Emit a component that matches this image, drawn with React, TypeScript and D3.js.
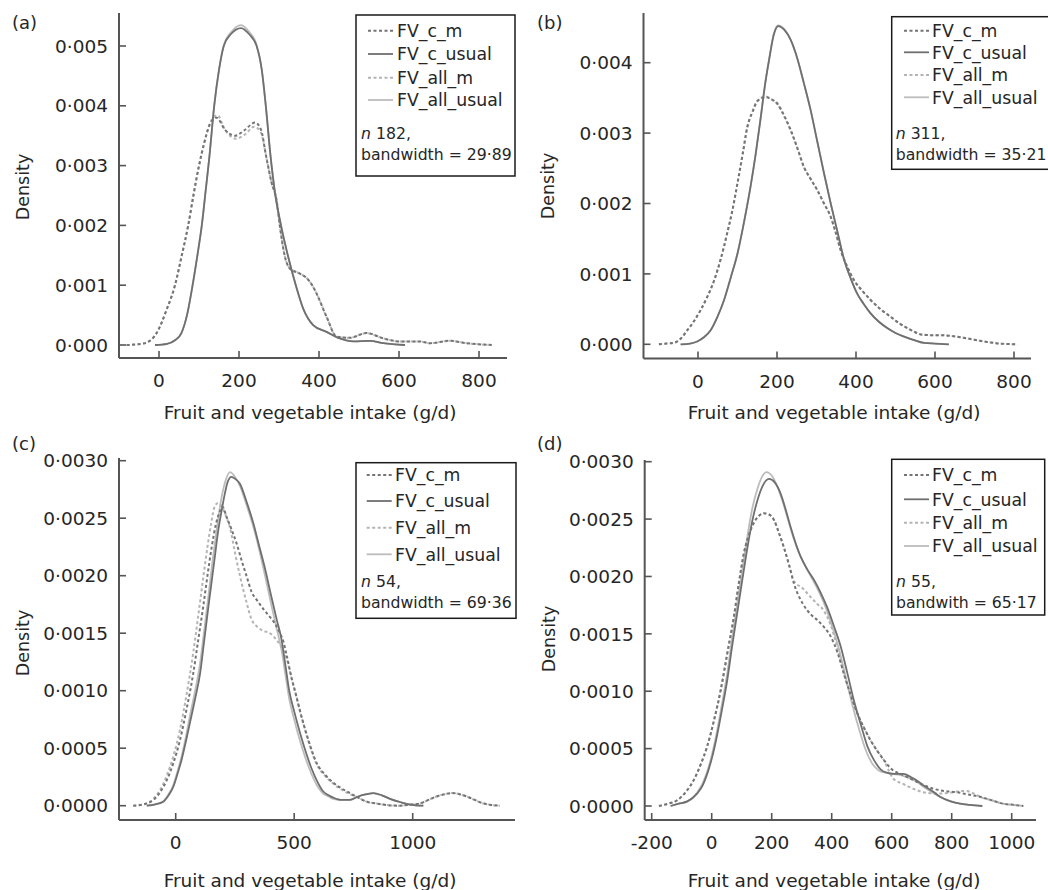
import React from "react";
import * as d3 from "d3";

type Pt = [number, number];

// ---- data: [intake g/d, density] ----
// panel (a)
const aCm: Pt[] = [[-81,0],[-55,0.00001],[-31,0.00004],[-6,0.0002],[19,0.00059],[40,0.001],[57,0.0015],[73,0.002],[86,0.0025],[100,0.003],[112,0.00335],[128,0.0037],[144,0.0038],[165,0.0036],[190,0.0035],[215,0.0036],[240,0.00372],[255,0.0036],[268,0.00315],[282,0.0027],[294,0.00242],[302,0.002],[314,0.0015],[327,0.00128],[350,0.0012],[369,0.00112],[383,0.001],[394,0.00086],[419,0.00047],[444,0.00014],[477,0.00012],[519,0.0002],[561,0.00011],[602,0.00006],[652,0.00006],[677,0.00003],[727,0.00007],[769,0.00003],[832,0]];
const aCu: Pt[] = [[-10,0],[20,0.00002],[40,0.00008],[56,0.0002],[70,0.0005],[84,0.001],[96,0.0015],[107,0.002],[117,0.0026],[126,0.00315],[138,0.004],[150,0.0046],[162,0.005],[180,0.0052],[205,0.0053],[225,0.0052],[244,0.005],[257,0.0046],[267,0.004],[279,0.00315],[291,0.0025],[305,0.002],[322,0.0015],[342,0.001],[361,0.0006],[386,0.00033],[419,0.00022],[452,0.00011],[486,0.00006],[527,0.00007],[561,0.00003],[615,0]];
const aAm: Pt[] = [[-81,0],[-55,0.00001],[-31,0.00004],[-6,0.0002],[19,0.00059],[40,0.001],[57,0.0015],[73,0.002],[86,0.0025],[100,0.003],[112,0.00335],[128,0.00372],[146,0.00384],[165,0.0036],[192,0.00345],[215,0.00352],[238,0.00365],[255,0.00355],[268,0.00315],[282,0.0027],[294,0.00242],[302,0.002],[314,0.0015],[327,0.00128],[350,0.0012],[369,0.00112],[383,0.001],[394,0.00086],[419,0.00047],[444,0.00014],[477,0.00012],[519,0.0002],[561,0.00011],[602,0.00006],[652,0.00006],[677,0.00003],[727,0.00007],[769,0.00003],[832,0]];
const aAu: Pt[] = [[-10,0],[20,0.00002],[40,0.00008],[56,0.0002],[70,0.0005],[84,0.001],[96,0.0015],[107,0.002],[117,0.0026],[126,0.00315],[138,0.004],[150,0.0046],[162,0.00502],[180,0.00523],[205,0.00535],[225,0.00524],[244,0.00502],[257,0.0046],[267,0.004],[279,0.00315],[291,0.0025],[305,0.002],[322,0.0015],[342,0.001],[361,0.0006],[386,0.00033],[419,0.00022],[452,0.00011],[486,0.00006],[527,0.00007],[561,0.00003],[615,0]];

// panel (b)
const bCm: Pt[] = [[-99,0],[-80,0.00001],[-61,0.00002],[-44,0.00008],[-27,0.0002],[-10,0.00033],[7,0.00049],[24,0.00068],[41,0.00091],[58,0.00122],[74,0.00158],[87,0.0019],[100,0.00229],[113,0.0027],[125,0.00309],[138,0.0033],[150,0.00345],[171,0.00351],[186,0.00348],[201,0.00342],[218,0.00325],[235,0.00304],[252,0.00278],[268,0.00252],[285,0.00235],[302,0.00219],[319,0.002],[336,0.00181],[348,0.0016],[361,0.00134],[378,0.0011],[395,0.00091],[416,0.00076],[437,0.00063],[462,0.0005],[488,0.00039],[509,0.0003],[530,0.00023],[547,0.00018],[564,0.00014],[590,0.00013],[614,0.00013],[640,0.00012],[665,0.0001],[695,0.00007],[724,0.00004],[765,0.00001],[808,0]];
const bCu: Pt[] = [[-44,0],[-20,0.00001],[-2,0.00004],[15,0.0001],[32,0.0002],[50,0.0004],[66,0.00063],[83,0.00095],[100,0.00129],[117,0.00175],[133,0.00224],[146,0.0027],[159,0.00323],[170,0.0037],[180,0.00404],[192,0.0044],[203,0.00452],[218,0.00447],[235,0.00432],[252,0.00405],[268,0.00371],[285,0.00333],[302,0.00288],[319,0.00243],[336,0.002],[353,0.0016],[370,0.0012],[387,0.00093],[403,0.00072],[420,0.00057],[437,0.00044],[458,0.00032],[479,0.00023],[500,0.00016],[522,0.00011],[547,0.00006],[572,0.00002],[600,0.00001],[635,0]];
const bAm: Pt[] = [[-99,0],[-80,0.00001],[-61,0.00002],[-44,0.00008],[-27,0.0002],[-10,0.00033],[7,0.00049],[24,0.00068],[41,0.00091],[58,0.00122],[74,0.00158],[87,0.0019],[100,0.00229],[113,0.0027],[125,0.00309],[138,0.00331],[150,0.00346],[171,0.00352],[186,0.00348],[201,0.00341],[218,0.00324],[235,0.00303],[252,0.00278],[268,0.00252],[285,0.00235],[302,0.00219],[319,0.002],[336,0.00181],[348,0.0016],[361,0.00134],[378,0.0011],[395,0.00091],[416,0.00076],[437,0.00063],[462,0.0005],[488,0.00039],[509,0.0003],[530,0.00023],[547,0.00018],[564,0.00014],[590,0.00013],[614,0.00013],[640,0.00012],[665,0.0001],[695,0.00007],[724,0.00004],[765,0.00001],[808,0]];
const bAu: Pt[] = [[-44,0],[-20,0.00001],[-2,0.00004],[15,0.0001],[32,0.0002],[50,0.0004],[66,0.00063],[83,0.00095],[100,0.00129],[117,0.00175],[133,0.00224],[146,0.0027],[159,0.00323],[170,0.0037],[180,0.00405],[192,0.00441],[203,0.00453],[218,0.00448],[235,0.00432],[252,0.00405],[268,0.00371],[285,0.00333],[302,0.00288],[319,0.00243],[336,0.002],[353,0.0016],[370,0.0012],[387,0.00093],[403,0.00072],[420,0.00057],[437,0.00044],[458,0.00032],[479,0.00023],[500,0.00016],[522,0.00011],[547,0.00006],[572,0.00002],[600,0.00001],[635,0]];

// panel (c)
const cCm: Pt[] = [[-179,0],[-140,0.00001],[-94,0.00005],[-65,0.00012],[-38,0.00022],[-10,0.00037],[18,0.00057],[46,0.00084],[74,0.00115],[95,0.00144],[116,0.00173],[134,0.002],[152,0.00225],[170,0.00245],[187,0.00256],[197,0.0026],[215,0.00251],[236,0.0024],[257,0.00228],[280,0.00212],[300,0.00199],[320,0.00186],[342,0.00179],[370,0.00171],[398,0.00164],[420,0.00158],[440,0.0015],[454,0.00143],[468,0.00131],[490,0.0011],[503,0.001],[525,0.00082],[560,0.00057],[595,0.00037],[630,0.00027],[665,0.0002],[700,0.00015],[735,0.00011],[770,0.00007],[806,0.000035],[846,0.00002],[876,0.00001],[946,0],[990,0.00001],[1031,0.00002],[1066,0.00005],[1101,0.00008],[1135,0.0001],[1165,0.00011],[1198,0.0001],[1228,0.00008],[1262,0.00005],[1298,0.00002],[1368,0]];
const cCu: Pt[] = [[-122,0],[-90,0.00001],[-52,0.000035],[-30,0.00009],[-10,0.000165],[8,0.00028],[25,0.0004],[42,0.00055],[60,0.00072],[82,0.00093],[103,0.00115],[120,0.00143],[138,0.00173],[163,0.00213],[180,0.0024],[195,0.00258],[208,0.00272],[220,0.00282],[235,0.00286],[252,0.00284],[271,0.0028],[298,0.00265],[327,0.00246],[352,0.00226],[377,0.00206],[400,0.00185],[426,0.00162],[447,0.00144],[463,0.00122],[479,0.001],[500,0.00082],[525,0.00063],[550,0.00046],[572,0.00033],[595,0.00022],[620,0.00013],[645,0.00009],[665,0.00007],[700,0.00005],[735,0.00005],[770,0.00008],[806,0.0001],[834,0.00011],[870,0.00009],[904,0.00006],[950,0.00003],[989,0.00001],[1045,0]];
const cAm: Pt[] = [[-179,0],[-140,0.00001],[-94,0.00006],[-65,0.00014],[-38,0.00026],[-10,0.00043],[18,0.00066],[46,0.00097],[74,0.00133],[95,0.00165],[116,0.00198],[134,0.00225],[150,0.00246],[166,0.00261],[178,0.00263],[195,0.0026],[212,0.00252],[230,0.00241],[250,0.0022],[271,0.002],[300,0.00176],[320,0.00162],[342,0.00156],[370,0.00152],[398,0.0015],[426,0.00144],[454,0.00135],[468,0.00128],[490,0.0011],[503,0.001],[525,0.00082],[560,0.00056],[595,0.00036],[630,0.00026],[665,0.00019],[700,0.00014],[735,0.0001],[770,0.00007],[806,0.000035],[846,0.00002],[876,0.00001],[946,0],[990,0.00001],[1031,0.00002],[1066,0.00005],[1101,0.00008],[1135,0.0001],[1165,0.00011],[1198,0.0001],[1228,0.00008],[1262,0.00005],[1298,0.00002],[1368,0]];
const cAu: Pt[] = [[-122,0],[-90,0.00001],[-52,0.00004],[-30,0.0001],[-10,0.00018],[8,0.0003],[25,0.00043],[42,0.00059],[60,0.00078],[82,0.001],[103,0.00124],[120,0.00152],[138,0.00182],[155,0.00212],[173,0.0024],[190,0.00264],[208,0.00281],[229,0.0029],[250,0.00286],[271,0.00278],[298,0.00262],[327,0.00243],[352,0.00223],[377,0.002],[400,0.00178],[426,0.00154],[447,0.00135],[463,0.00114],[479,0.00093],[500,0.00075],[525,0.00056],[550,0.0004],[572,0.00028],[595,0.00018],[620,0.00011],[645,0.00008],[665,0.00006],[700,0.00005],[735,0.00005],[770,0.00008],[806,0.0001],[834,0.00011],[870,0.00009],[904,0.00006],[950,0.00003],[989,0.00001],[1045,0]];

// panel (d)
const dCm: Pt[] = [[-176,0],[-145,0.00002],[-115,0.00005],[-87,0.00012],[-59,0.00023],[-37,0.00036],[-15,0.00052],[8,0.00075],[30,0.00101],[52,0.00133],[74,0.00165],[91,0.00195],[108,0.00221],[125,0.00237],[141,0.00247],[158,0.00253],[174,0.00255],[191,0.00254],[208,0.00249],[224,0.00238],[241,0.00225],[258,0.0021],[274,0.00194],[302,0.00177],[330,0.00167],[352,0.00162],[374,0.00156],[396,0.00148],[419,0.00134],[441,0.00115],[463,0.00097],[485,0.00081],[508,0.00068],[530,0.00057],[552,0.00048],[574,0.0004],[600,0.00032],[630,0.00028],[661,0.00024],[700,0.00019],[739,0.00015],[778,0.00013],[817,0.00012],[855,0.0001],[894,0.00008],[933,0.00005],[972,0.00002],[1005,0.00001],[1039,0]];
const dCu: Pt[] = [[-137,0],[-110,0.00002],[-81,0.00004],[-48,0.00011],[-30,0.00018],[-15,0.00028],[2,0.00043],[19,0.00063],[35,0.00085],[52,0.0011],[68,0.00139],[85,0.00168],[102,0.00197],[119,0.00225],[135,0.00248],[152,0.00266],[170,0.00279],[191,0.00285],[210,0.00282],[230,0.00272],[247,0.00258],[263,0.00243],[280,0.00229],[297,0.00217],[319,0.00206],[341,0.00197],[363,0.00186],[385,0.00173],[407,0.00157],[430,0.00139],[452,0.00116],[474,0.00092],[497,0.00071],[519,0.00052],[541,0.0004],[563,0.00032],[583,0.00029],[608,0.00028],[639,0.00028],[665,0.00025],[685,0.00022],[705,0.00018],[741,0.00012],[761,0.00008],[797,0.00004],[828,0.00002],[860,0.00001],[902,0]];
const dAm: Pt[] = [[-176,0],[-145,0.00002],[-115,0.00005],[-87,0.00012],[-59,0.00023],[-37,0.00036],[-15,0.00052],[8,0.00075],[30,0.00101],[52,0.00133],[74,0.00165],[91,0.00195],[108,0.00221],[125,0.00237],[141,0.00247],[158,0.00253],[174,0.00255],[191,0.00254],[208,0.00249],[224,0.00238],[241,0.00225],[258,0.0021],[274,0.00196],[302,0.0019],[330,0.00182],[352,0.00176],[374,0.0017],[396,0.00158],[419,0.00138],[441,0.00115],[463,0.00097],[485,0.00081],[508,0.00068],[530,0.00057],[552,0.00048],[574,0.0004],[590,0.00031],[605,0.00024],[640,0.00019],[672,0.00015],[705,0.00012],[739,0.00011],[772,0.00011],[805,0.00012],[830,0.00013],[850,0.00013],[872,0.00011],[894,0.00008],[933,0.00005],[972,0.00002],[1005,0.00001],[1039,0]];
const dAu: Pt[] = [[-137,0],[-110,0.00002],[-81,0.00004],[-48,0.00012],[-30,0.0002],[-15,0.0003],[2,0.00046],[19,0.00067],[35,0.0009],[52,0.00116],[68,0.00146],[85,0.00176],[102,0.00206],[119,0.00235],[135,0.00259],[152,0.00276],[168,0.00287],[183,0.00291],[200,0.00288],[218,0.00279],[237,0.00265],[255,0.00249],[272,0.00234],[290,0.00221],[312,0.00209],[335,0.00198],[357,0.00187],[380,0.00173],[402,0.00156],[425,0.00136],[447,0.00112],[469,0.00088],[491,0.00067],[513,0.00049],[535,0.00037],[557,0.00031],[580,0.00029],[600,0.00028],[630,0.00027],[660,0.00024],[685,0.00021],[705,0.00017],[741,0.00011],[761,0.00008],[797,0.00004],[828,0.00002],[860,0.00001],[902,0]];

const seriesNames = ["FV_c_m", "FV_c_usual", "FV_all_m", "FV_all_usual"];
const tags = ["(a)", "(b)", "(c)", "(d)"];
const nValues = ["182", "311", "54", "55"];
const bwLabels = ["bandwidth = 29·89", "bandwidth = 35·21", "bandwidth = 69·36", "bandwith = 65·17"];
const xTicksAB = [0, 200, 400, 600, 800];
const xTicksC = [0, 500, 1000];
const xTicksD = [-200, 0, 200, 400, 600, 800, 1000];
const yTicksA = [0, 0.001, 0.002, 0.003, 0.004, 0.005];
const yTicksB = [0, 0.001, 0.002, 0.003, 0.004];
const yTicksCD = [0, 0.0005, 0.001, 0.0015, 0.002, 0.0025, 0.003];

// line styles, same order as seriesNames
const lineStyle = [
  { stroke: "#747474", dash: "3,2.5", width: 2 },
  { stroke: "#6f6f6f", dash: null, width: 1.8 },
  { stroke: "#b4b4b4", dash: "3,2.5", width: 2 },
  { stroke: "#bcbcbc", dash: null, width: 1.8 },
];
const drawOrder = [3, 2, 1, 0];

const FONT = "'DejaVu Sans', sans-serif";
const INK = "#262626";
const AXIS = "#555";

// layout of each panel (pixels)
const panels = [
  {
    series: [aCm, aCu, aAm, aAu], xTicks: xTicksAB, yTicks: yTicksA, yDec: 3,
    xDom: [0, 800], xRng: [159, 479], yDom: [0, 0.005], yRng: [345, 46],
    box: { l: 119, r: 507, t: 13, b: 358 },
    tagPos: [12, 29], xTitle: [310, 419], yTitle: [29, 187],
    legend: { x: 356, y: 15, w: 159, h: 161, rows: [30.7, 54, 77.7, 100], lx: 368, tx: 397, nx: 361, ny: 133, by: 154 },
  },
  {
    series: [bCm, bCu, bAm, bAu], xTicks: xTicksAB, yTicks: yTicksB, yDec: 3,
    xDom: [0, 800], xRng: [698, 1014], yDom: [0, 0.004], yRng: [344.3, 62.7],
    box: { l: 643.5, r: 1031, t: 13, b: 358.5 },
    tagPos: [537, 29], xTitle: [834, 419], yTitle: [554, 186],
    legend: { x: 891.7, y: 16.7, w: 170, h: 152.6, rows: [30.7, 52.3, 75, 97.3], lx: 904, tx: 932, nx: 895.7, ny: 133, by: 154 },
  },
  {
    series: [cCm, cCu, cAm, cAu], xTicks: xTicksC, yTicks: yTicksCD, yDec: 4,
    xDom: [0, 1000], xRng: [175.7, 412.7], yDom: [0, 0.003], yRng: [805.7, 460.7],
    box: { l: 119, r: 515, t: 458, b: 820 },
    tagPos: [12, 450], xTitle: [310, 887], yTitle: [29, 643],
    legend: { x: 356, y: 462.7, w: 160, h: 155.6, rows: [475, 501, 527.7, 554.3], lx: 366.7, tx: 395, nx: 361, ny: 581.7, by: 602.7 },
  },
  {
    series: [dCm, dCu, dAm, dAu], xTicks: xTicksD, yTicks: yTicksCD, yDec: 4,
    xDom: [-200, 1000], xRng: [651.7, 1011.7], yDom: [0, 0.003], yRng: [806, 461.7],
    box: { l: 644.7, r: 1036, t: 460, b: 820 },
    tagPos: [537, 450], xTitle: [834, 887], yTitle: [554.7, 639],
    legend: { x: 891.7, y: 459.3, w: 153, h: 155.7, rows: [475, 499.3, 522.7, 546], lx: 904, tx: 932, nx: 896, ny: 581.7, by: 602.7 },
  },
];

const Panel = ({ p, idx }: { p: (typeof panels)[number]; idx: number }) => {
  const x = d3.scaleLinear().domain(p.xDom).range(p.xRng);
  const y = d3.scaleLinear().domain(p.yDom).range(p.yRng);
  const line = d3
    .line<Pt>()
    .x((d) => x(d[0]))
    .y((d) => y(d[1]))
    .curve(d3.curveMonotoneX);
  const fmtY = (v: number) => d3.format(`.${p.yDec}f`)(v).replace(".", "\u00B7");
  const { box, legend } = p;
  const tick = 7;

  return (
    <g>
      {/* curves */}
      {drawOrder.map((i) => (
        <path
          key={i}
          d={line(p.series[i]) || ""}
          fill="none"
          stroke={lineStyle[i].stroke}
          strokeWidth={lineStyle[i].width}
          strokeDasharray={lineStyle[i].dash || undefined}
          strokeLinejoin="round"
        />
      ))}

      {/* axes */}
      <line x1={box.l} x2={box.l} y1={box.t} y2={box.b} stroke={AXIS} strokeWidth={2} />
      <line x1={box.l} x2={box.r} y1={box.b} y2={box.b} stroke={AXIS} strokeWidth={2} />
      {p.yTicks.map((t) => (
        <g key={"y" + t}>
          <line x1={box.l} x2={box.l + tick} y1={y(t)} y2={y(t)} stroke={AXIS} strokeWidth={1.6} />
          <text x={box.l - 11} y={y(t)} dy="0.36em" textAnchor="end" fontSize={18.5} fontFamily={FONT} fill={INK}>
            {fmtY(t)}
          </text>
        </g>
      ))}
      {p.xTicks.map((t) => (
        <g key={"x" + t}>
          <line x1={x(t)} x2={x(t)} y1={box.b} y2={box.b - tick} stroke={AXIS} strokeWidth={1.6} />
          <text x={x(t)} y={box.b + 29} textAnchor="middle" fontSize={18.5} fontFamily={FONT} fill={INK}>
            {t}
          </text>
        </g>
      ))}

      {/* titles */}
      <text x={p.xTitle[0]} y={p.xTitle[1]} textAnchor="middle" fontSize={18.5} fontFamily={FONT} fill={INK}>
        Fruit and vegetable intake (g/d)
      </text>
      <text
        transform={`translate(${p.yTitle[0]},${p.yTitle[1]}) rotate(-90)`}
        textAnchor="middle"
        fontSize={17.5}
        fontFamily={FONT}
        fill={INK}
      >
        Density
      </text>
      <text x={p.tagPos[0]} y={p.tagPos[1]} fontSize={18} fontFamily={FONT} fill={INK}>
        {tags[idx]}
      </text>

      {/* legend */}
      <rect x={legend.x} y={legend.y} width={legend.w} height={legend.h} fill="white" stroke="#1a1a1a" strokeWidth={1.5} />
      {seriesNames.map((name, i) => (
        <g key={name}>
          <line
            x1={legend.lx}
            x2={legend.lx + 25}
            y1={legend.rows[i]}
            y2={legend.rows[i]}
            stroke={lineStyle[i].stroke}
            strokeWidth={lineStyle[i].width}
            strokeDasharray={lineStyle[i].dash || undefined}
          />
          <text x={legend.tx} y={legend.rows[i]} dy="0.36em" fontSize={17.3} fontFamily={FONT} fill={INK}>
            {name}
          </text>
        </g>
      ))}
      <text x={legend.nx} y={legend.ny} dy="0.36em" fontSize={15.7} fontFamily={FONT} fill={INK}>
        <tspan fontStyle="italic">n</tspan> {nValues[idx]},
      </text>
      <text x={legend.nx} y={legend.by} dy="0.36em" fontSize={15.7} fontFamily={FONT} fill={INK}>
        {bwLabels[idx]}
      </text>
    </g>
  );
};

export default function App() {
  return (
    <svg
      width={1048}
      height={890}
      viewBox="0 0 1048 890"
      style={{ position: "absolute", left: 0, top: 0, background: "white", display: "block" }}
    >
      <rect width={1048} height={890} fill="white" />
      {panels.map((p, i) => (
        <Panel key={i} p={p} idx={i} />
      ))}
    </svg>
  );
}
